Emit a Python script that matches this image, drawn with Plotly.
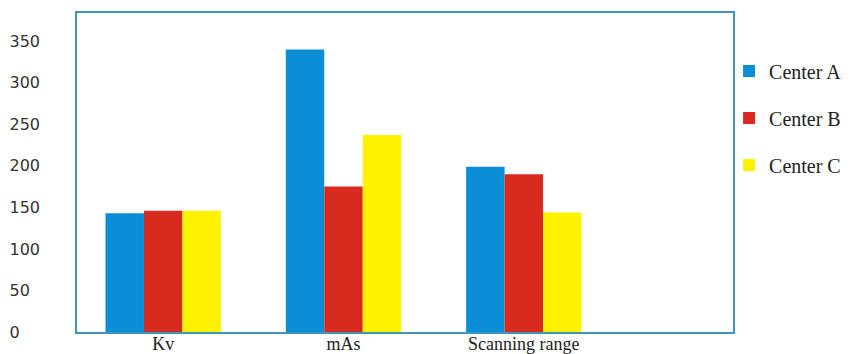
import plotly.graph_objects as go

categories = ["Kv", "mAs", "Scanning range"]
series_names = ["Center A", "Center B", "Center C"]
center_a = [143, 340, 199]
center_b = [146, 175, 190]
center_c = [146, 237, 144]
colors = ["#0a8fd6", "#d92a1f", "#fff200"]
y_ticks = [0, 50, 100, 150, 200, 250, 300, 350]

FS = "\u2007"
y_ticktext = [str(v) + FS * (3 - len(str(v))) for v in y_ticks]

fig = go.Figure()
for i, (name, vals) in enumerate(zip(series_names, [center_a, center_b, center_c])):
    fig.add_trace(go.Bar(
        x=list(range(len(categories))), y=vals, name=name,
        marker=dict(color=colors[i], line=dict(width=0)),
        legendgroup=name,
    ))

fig.update_layout(
    width=857, height=354,
    margin=dict(l=77, r=124, t=13, b=22, autoexpand=False),
    paper_bgcolor="white", plot_bgcolor="white",
    barmode="group", bargap=0.36, bargroupgap=0,
    showlegend=True,
    legend=dict(
        x=0.994, xanchor="left", y=0.879, yanchor="top",
        font=dict(family="Liberation Serif", size=20, color="#222"),
        tracegroupgap=18, bgcolor="rgba(0,0,0,0)",
    ),
    xaxis=dict(
        range=[-0.478, 3.16], automargin=False,
        tickmode="array", tickvals=list(range(len(categories))), ticktext=categories,
        showgrid=False, zeroline=False,
        showline=True, linecolor="#3d96c0", linewidth=1.5, mirror=True,
        ticks="", ticklabelstandoff=-5,
        tickfont=dict(family="Liberation Serif", size=18, color="#222"),
    ),
    yaxis=dict(
        range=[0, 384], automargin=False,
        tickmode="array", tickvals=y_ticks, ticktext=y_ticktext,
        showgrid=False, zeroline=False,
        showline=True, linecolor="#3d96c0", linewidth=1.5, mirror=True,
        ticks="", ticklabelstandoff=32,
        tickfont=dict(family="DejaVu Sans", size=16, color="#333"),
    ),
)

fig.write_html("out.html")
